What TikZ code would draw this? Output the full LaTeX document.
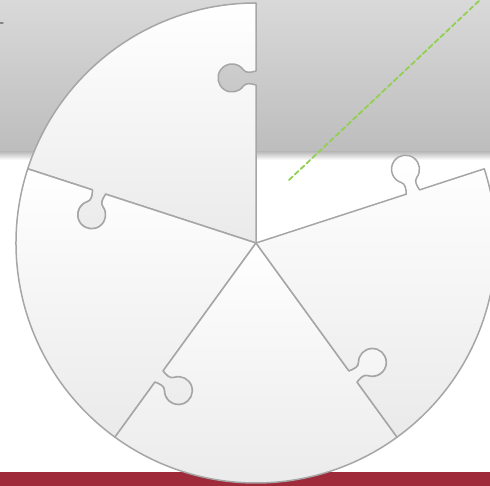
\documentclass[tikz,border=0pt]{standalone}
\usetikzlibrary{calc}

\definecolor{bandred}{RGB}{158,42,58}
\definecolor{edgegray}{RGB}{166,166,166}
\definecolor{dashgreen}{RGB}{146,208,80}
\definecolor{skytop}{RGB}{217,217,217}
\definecolor{skylow}{RGB}{189,189,189}
\definecolor{piecelow}{RGB}{234,234,234}

% boundary at angle #1, walked outwards, knob bent towards #1+90
\newcommand{\dentedge}[1]{%
  -- ([rotate=#1]158,0)
  .. controls ([rotate=#1]159.5,5) and ([rotate=#1]160.3,10.2) .. ([rotate=#1]157,12.5)
  arc[start angle=#1+235, end angle=#1-55, radius=14]
  .. controls ([rotate=#1]169.7,10.2) and ([rotate=#1]170.5,5) .. ([rotate=#1]172,0)
  -- (#1:240)}
% same boundary, walked back to the centre
\newcommand{\tabedge}[1]{%
  -- ([rotate=#1]172,0)
  .. controls ([rotate=#1]170.5,5) and ([rotate=#1]169.7,10.2) .. ([rotate=#1]173,12.5)
  arc[start angle=#1-55, end angle=#1+235, radius=14]
  .. controls ([rotate=#1]160.3,10.2) and ([rotate=#1]159.5,5) .. ([rotate=#1]158,0)
  -- (0,0)}

\begin{document}
\begin{tikzpicture}[x=1pt, y=1pt, line cap=round, line join=round,
    piece/.style={top color=white, bottom color=piecelow, draw=edgegray, line width=1.5pt}]

  \useasboundingbox (0,0) rectangle (490,486);
  \clip (0,0) rectangle (490,486);

  % --- backdrop ---
  \fill[white] (0,0) rectangle (490,486);
  \shade[top color=skytop, bottom color=skylow] (0,334) rectangle (490,486);
  \shade[top color=skylow, bottom color=white] (0,326) rectangle (490,334);
  \fill[bandred] (0,0) rectangle (490,14);
  \draw[edgegray!80!black, line width=1.5pt] (0,463) -- (3,463);

  % --- guide line in the empty slot ---
  \draw[dashgreen, line width=1.8pt, dash pattern=on 5pt off 3pt] (289,306) -- (482,488);

  % --- four remaining pieces ---
  \begin{scope}[shift={(256,243)}]
    \foreach \a in {90,162,234,306}
      \shadedraw[piece] (0,0) \dentedge{\a}
        arc[start angle=\a, end angle=\a+72, radius=240]
        \tabedge{\a+72} -- cycle;
  \end{scope}
\end{tikzpicture}
\end{document}
